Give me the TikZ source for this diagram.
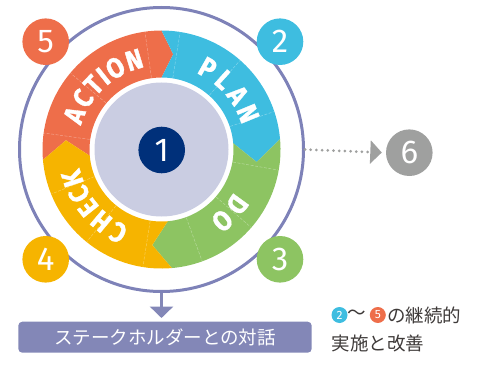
\documentclass[tikz,border=0pt]{standalone}
\usepackage{fontspec}
\setmainfont{Fira Sans}
\newfontfamily\jpfont{Noto Sans CJK JP}
\newfontfamily\arcfam{Fira Sans}[FakeStretch=0.88, BoldFeatures={FakeBold=1.2}]
\usetikzlibrary{positioning,arrows.meta}
\definecolor{actcol}{HTML}{EE6E4A}
\definecolor{plancol}{HTML}{3EBDE0}
\definecolor{docol}{HTML}{8DC462}
\definecolor{chkcol}{HTML}{F6B400}
\definecolor{corecol}{HTML}{CACDE2}
\definecolor{navycol}{HTML}{00307A}
\definecolor{ringcol}{HTML}{7E82B8}
\definecolor{boxcol}{HTML}{8387B7}
\definecolor{sixcol}{HTML}{9FA09F}
\definecolor{txtcol}{HTML}{3E3A39}
\begin{document}
\begin{tikzpicture}[x=1pt, y=1pt,
    numdot/.style={circle, minimum size=46.6pt, inner sep=0pt, text=white, font=\fontsize{33}{33}\selectfont},
    smalldot/.style={circle, minimum size=16pt, inner sep=0pt, text=white, font=\fontsize{12}{12}\selectfont},
    arcletter/.style={anchor=base, inner sep=0pt, text=white, font=\arcfam\bfseries\fontsize{28}{28}\selectfont},
    segline/.style={white, opacity=0.35, line width=0.5pt, dash pattern=on 3pt off 1.5pt},
    jptext/.style={text=txtcol, font=\jpfont\fontsize{18.5}{18.5}\selectfont, inner sep=0pt}]
    \useasboundingbox (0,0) rectangle (490,365);
    \coordinate (c) at (161.5,215.5);

    % 1. 外圈
    \node[circle, draw=ringcol, line width=3pt, minimum size=284pt, inner sep=0pt] (ring) at (c) {};

    % 2. PDCA 环（箭头形扇区）
    \begin{scope}[shift={(c)}]
        \foreach \s/\ts/\e/\te/\col in {185/174.5/90/83/actcol, 90/83/5/-7.5/plancol, 5/-7.5/-85/-95.5/docol, -85/-95.5/-175/-185.5/chkcol}
            \fill[\col] (\s:119) arc[start angle=\s, end angle=\e, radius=119] -- (\te:96)
                -- (\e:72) arc[start angle=\e, end angle=\s, radius=72] -- (\ts:96) -- cycle;
        \foreach \a in {172,140,98,81,48.6,18.6,-10,-41,-70,-99,-129,-158}
            \draw[segline] (\a:72.5) -- (\a:118.5);
        \fill[corecol] (0,0) circle[radius=67];

        % 3. 环上文字（逐字母沿圆排列）
        \foreach \ch/\a [count=\i] in {A/158.5, C/147, T/136.5, I/128.5, O/119.5, N/107,
                P/60.5, L/48, A/35.5, N/22.5,
                D/-36, O/-49.5,
                C/-117.5, H/-130, E/-141.5, C/-151.5, K/-162}
            \node[arcletter, rotate=\a-90] (ltr\i) at (\a:84) {\ch};
    \end{scope}

    % 4. 编号圆
    \node[numdot, fill=navycol] (n1) at (161.7,215) {1};
    \node[numdot, fill=plancol] (n2) at (280,323.3) {2};
    \node[numdot, fill=docol] (n3) at (280,105.7) {3};
    \node[numdot, fill=chkcol] (n4) at (45.7,105.7) {4};
    \node[numdot, fill=actcol] (n5) at (45.7,323.3) {5};
    \node[numdot, fill=sixcol] (n6) at (409.3,212.3) {6};

    % 5. 箭头与对话框
    \draw[sixcol, line width=3pt, line cap=round, dash pattern=on 0pt off 5.7pt, shorten >=4pt,
        -{Triangle[width=23pt, length=11.5pt]}] (ring.east) -- (n6.west);
    \node[fill=boxcol, rounded corners=4pt, minimum width=293.4pt, minimum height=31pt, inner sep=0pt,
        text=white, font=\jpfont\fontsize{18.5}{18.5}\selectfont] (talk) at (165,27.8) {ステークホルダーとの対話};
    \draw[boxcol, line width=3pt, shorten >=3.5pt, -{Triangle[width=23pt, length=11.5pt]}]
        (ring.south) -- (ring.south |- talk.north);

    % 6. 说明文字
    \node[smalldot, fill=plancol] (s2) at (339.5,50) {2};
    \node[jptext, right=0pt of s2] (tilde) {～};
    \node[smalldot, fill=actcol, right=3pt of tilde] (s5) {5};
    \node[jptext, right=1pt of s5] (cont) {の継続的};
    \node[jptext, anchor=west] (impl) at (331.5,22) {実施と改善};
\end{tikzpicture}
\end{document}
